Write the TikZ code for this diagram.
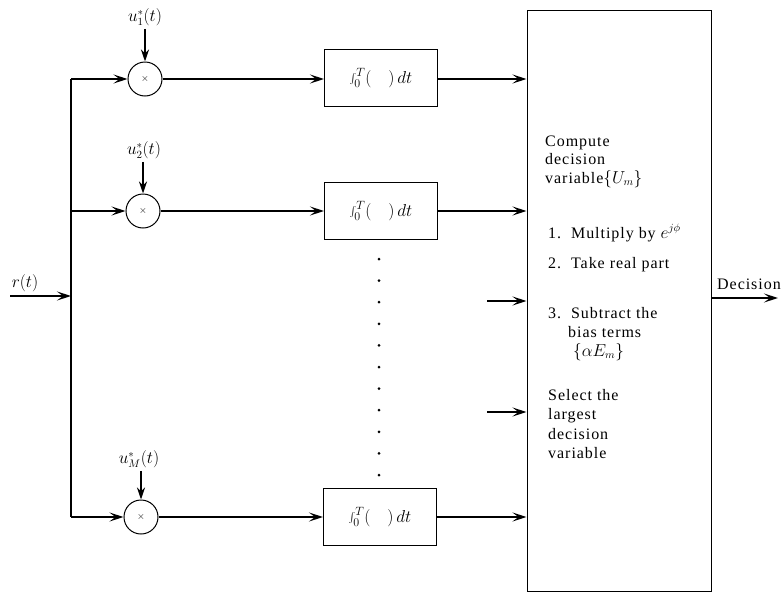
\documentclass[tikz,border=0pt]{standalone}
\usepackage{fontspec}
\setmainfont{Liberation Serif}[LetterSpace=6]
\usetikzlibrary{arrows.meta}
\begin{document}
\begin{tikzpicture}[x=1pt,y=-1pt,
  wire/.style={line width=1.4pt},
  arr/.style={line width=1.4pt,-{Stealth[length=14pt,width=9pt,inset=6pt]}},
  darr/.style={line width=1.6pt,-{Stealth[length=12pt,width=8pt,inset=4pt]}},
  mult/.style={circle,draw,line width=1pt,minimum size=34pt,inner sep=0pt,font=\fontsize{10}{10}\selectfont},
  integ/.style={draw,line width=1pt,minimum width=113pt,minimum height=57pt,inner sep=0pt,font=\fontsize{17}{17}\selectfont},
  big/.style={draw,line width=1pt,minimum width=184pt,minimum height=581pt,inner sep=0pt},
  txt/.style={anchor=base west,inner sep=0pt,font=\fontsize{16}{16}\selectfont},
  lab/.style={inner sep=0pt,font=\fontsize{16}{16}\selectfont},
  dot/.style={circle,fill,inner sep=0pt,minimum size=3pt}]
\useasboundingbox (0,0) rectangle (782,592);

% multipliers
\node[mult] (m1) at (145,79) {$\times$};
\node[mult] (m2) at (143,211) {$\times$};
\node[mult] (m3) at (141,517) {$\times$};

% reference signal labels
\node[lab] (u1) at (145,17) {$u_1^*(t)$};
\node[lab] (u2) at (144,150) {$u_2^*(t)$};
\node[lab] (u3) at (139,459) {$u_M^*(t)$};

% integrators
\node[integ] (b1) at (381,78) {$\int_0^T(\quad)\,dt$};
\node[integ] (b2) at (381,211) {$\int_0^T(\quad)\,dt$};
\node[integ] (b3) at (380,517) {$\int_0^T(\quad)\,dt$};

% decision block
\node[big] (dec) at (619,300.5) {};

% input
\coordinate (in) at (10,296);
\coordinate (btop) at (71,79);
\coordinate (bmid2) at (71,211);
\coordinate (bbot) at (71,517);
\coordinate (bin) at (71,296);
\node[lab] (rl) at (25,283) {$r(t)$};

\draw[arr] (in) -- (bin);
\draw[wire] (btop) -- (bbot);
\draw[arr] (btop) -- (m1.west);
\draw[arr] (bmid2) -- (m2.west);
\draw[arr] (bbot) -- (m3.west);

\draw[darr] (m1.north |- u1.south) ++(0,3) -- (m1.north);
\draw[darr] (m2.north |- u2.south) ++(0,3) -- (m2.north);
\draw[darr] (m3.north |- u3.south) ++(0,3) -- (m3.north);

\draw[arr] (m1.east) -- (b1.west |- m1.east);
\draw[arr] (m2.east) -- (b2.west |- m2.east);
\draw[arr] (m3.east) -- (b3.west |- m3.east);

\draw[arr] (b1.east |- m1) -- (dec.west |- m1);
\draw[arr] (b2.east |- m2) -- (dec.west |- m2);
\draw[arr] (b3.east |- m3) -- (dec.west |- m3);

\coordinate (x1) at (487,301);
\coordinate (x2) at (487,412);
\draw[arr] (x1) -- (dec.west |- x1);
\draw[arr] (x2) -- (dec.west |- x2);

% output
\coordinate (out) at (778,298);
\draw[arr] (dec.east |- out) -- (out);
\node[txt] (dlab) at (717,289) {Decision};

% dots
\foreach \i in {0,...,10} {
  \node[dot] (d\i) at (379,259+21.6*\i) {};
}

% text in decision block
\node[txt] (t1) at (545,146) {Compute};
\node[txt] (t2) at (545,164) {decision};
\node[txt] (t3) at (545,183) {variable$\{U_m\}$};
\node[txt] (t4) at (548,238) {1.\ \ Multiply by $e^{j\phi}$};
\node[txt] (t5) at (548,268) {2.\ \ Take real part};
\node[txt] (t6) at (548,318) {3.\ \ Subtract the};
\node[txt] (t7) at (568,337) {bias terms};
\node[txt] (t8) at (573,356) {$\{\alpha E_m\}$};
\node[txt] (t9) at (548,400) {Select the};
\node[txt] (t10) at (548,419) {largest};
\node[txt] (t11) at (548,439) {decision};
\node[txt] (t12) at (548,458) {variable};
\end{tikzpicture}
\end{document}
